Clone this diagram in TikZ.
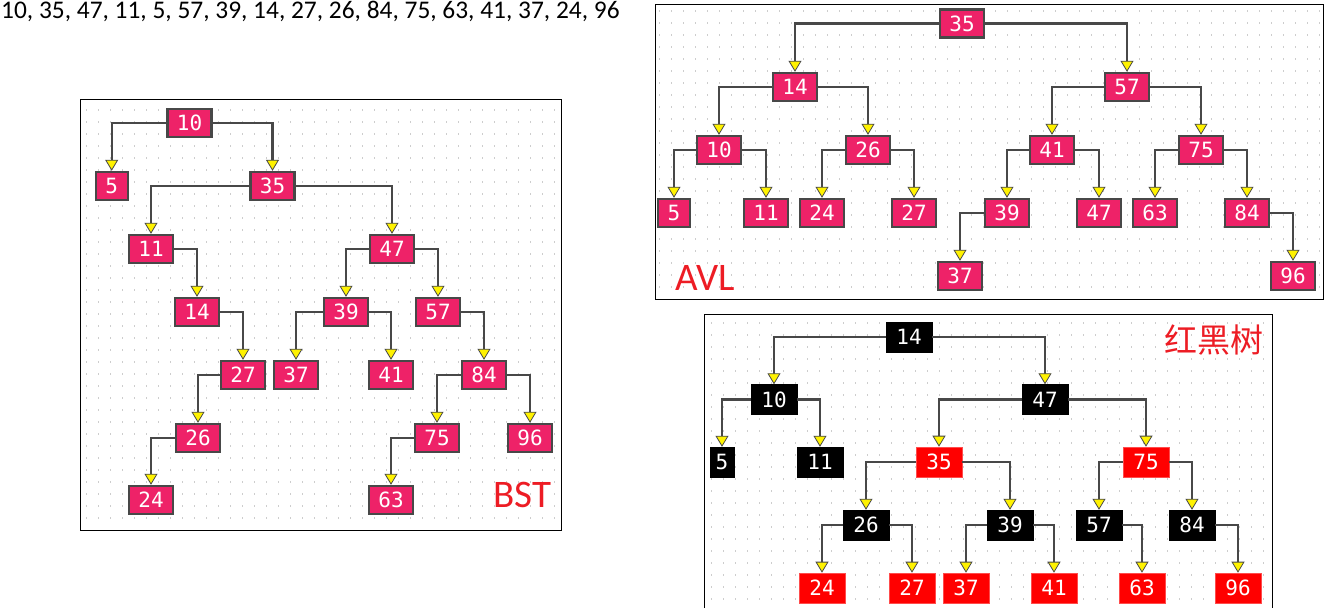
\documentclass[tikz,border=0pt]{standalone}
\usepackage{fontspec}
\setmainfont{Carlito}
\newfontfamily\monof{DejaVu Sans Mono}
\newfontfamily\cjkf{Noto Sans CJK SC}
\usetikzlibrary{arrows.meta}
\definecolor{pinkn}{RGB}{238,34,104}
\definecolor{edgec}{RGB}{72,72,72}
\definecolor{lbl}{RGB}{237,28,36}
\definecolor{dotc}{RGB}{205,205,205}
\begin{document}
\begin{tikzpicture}[x=1pt,y=-1pt,
  nd/.style={rectangle, minimum width=44pt, minimum height=28pt, inner sep=0pt, font=\monof\fontsize{21}{21}\selectfont, text=white},
  pk/.style={nd, fill=pinkn, draw=edgec, line width=2.4pt},
  bk/.style={nd, fill=black, draw=black, minimum width=46pt, minimum height=30pt},
  rd/.style={nd, fill=red, draw=red!70!white, line width=0.6pt, minimum width=46pt, minimum height=30pt},
  one/.style={minimum width=32pt},
  edge/.style={draw=edgec, line width=2.4pt, -{Triangle[width=13pt,length=11pt,fill=yellow,line width=0.8pt]}},
  frame/.style={draw=black, line width=1pt},
  dots/.style={draw=dotc, line width=1.4pt, dash pattern=on 1.4pt off 10.6pt},
  lab/.style={anchor=base west, inner sep=0pt, text=lbl, font=\fontsize{39}{39}\selectfont},
]
\useasboundingbox (0,0) rectangle (1338,608);
\fill[white] (0,0) rectangle (1338,608);
% dot grids
\foreach \yy in {110,122,...,526} \draw[dots] (86,\yy) -- (558,\yy);
\foreach \yy in {11,23,...,296} \draw[dots] (659,\yy) -- (1320,\yy);
\foreach \yy in {323,335,...,608} \draw[dots] (711,\yy) -- (1270,\yy);
% frames
\draw[frame] (80,99) rectangle (561,530);
\draw[frame] (655,4) rectangle (1323,299);
\draw[frame] (704.5,608) -- (704.5,314.5) -- (1272,314.5) -- (1272,608);
% sequence text
\node[anchor=base west, inner sep=0pt, font=\fontsize{25.4}{25.4}\selectfont] (seq) at (1,18.5) {10, 35, 47, 11, 5, 57, 39, 14, 27, 26, 84, 75, 63, 41, 37, 24, 96};
% labels
\node[lab] (bstl) at (493,507) {BST};
\node[lab] (avll) at (675,290) {AVL};
\node[inner sep=0pt, text=lbl, font=\cjkf\fontsize{33}{33}\selectfont] (rbl) at (1214,340) {红黑树};
% BST
\node[pk] (b10) at (189.5,123) {10};
\node[pk,one] (b5) at (111.7,186) {5};
\node[pk] (b35) at (272.5,186) {35};
\node[pk] (b11) at (151,249) {11};
\node[pk] (b47) at (392,249) {47};
\node[pk] (b14) at (197,312) {14};
\node[pk] (b39) at (346,312) {39};
\node[pk] (b57) at (438,312) {57};
\node[pk] (b27) at (243,375) {27};
\node[pk] (b37) at (296,375) {37};
\node[pk] (b41) at (391,375) {41};
\node[pk] (b84) at (484,375) {84};
\node[pk] (b26) at (198,438) {26};
\node[pk] (b75) at (437,438) {75};
\node[pk] (b96) at (530,438) {96};
\node[pk] (b24) at (151,500) {24};
\node[pk] (b63) at (391,500) {63};
\foreach \p/\c in {b10/b5,b35/b11,b47/b39,b39/b37,b27/b26,b84/b75,b26/b24,b75/b63}
  \draw[edge] (\p.west) -| (\c.north);
\foreach \p/\c in {b10/b35,b35/b47,b11/b14,b14/b27,b47/b57,b39/b41,b57/b84,b84/b96}
  \draw[edge] (\p.east) -| (\c.north);
% AVL
\node[pk] (a35) at (962,23.5) {35};
\node[pk] (a14) at (795,87) {14};
\node[pk] (a57) at (1127,87) {57};
\node[pk] (a10) at (719,150) {10};
\node[pk] (a26) at (868,150) {26};
\node[pk] (a41) at (1052,150) {41};
\node[pk] (a75) at (1201,150) {75};
\node[pk,one] (a5) at (674,213) {5};
\node[pk] (a11) at (766,213) {11};
\node[pk] (a24) at (822,213) {24};
\node[pk] (a27) at (914,213) {27};
\node[pk] (a39) at (1007,213) {39};
\node[pk] (a47) at (1099,213) {47};
\node[pk] (a63) at (1155,213) {63};
\node[pk] (a84) at (1247,213) {84};
\node[pk] (a37) at (960,276) {37};
\node[pk] (a96) at (1293,276) {96};
\foreach \p/\c in {a35/a14,a14/a10,a57/a41,a10/a5,a26/a24,a41/a39,a75/a63,a39/a37}
  \draw[edge] (\p.west) -| (\c.north);
\foreach \p/\c in {a35/a57,a14/a26,a57/a75,a10/a11,a26/a27,a41/a47,a75/a84,a84/a96}
  \draw[edge] (\p.east) -| (\c.north);
% Red-black
\node[bk] (r14) at (909,337) {14};
\node[bk] (r10) at (774,399.5) {10};
\node[bk] (r47) at (1045,399.5) {47};
\node[bk,minimum width=24pt] (r5) at (722,462) {5};
\node[bk] (r11) at (820,462) {11};
\node[rd] (r35) at (939,462) {35};
\node[rd] (r75) at (1146,462) {75};
\node[bk] (r26) at (866,525) {26};
\node[bk] (r39) at (1010,525) {39};
\node[bk] (r57) at (1099,525) {57};
\node[bk] (r84) at (1192,525) {84};
\node[rd] (r24) at (822,588) {24};
\node[rd] (r27) at (912,588) {27};
\node[rd] (r37) at (966,588) {37};
\node[rd] (r41) at (1054,588) {41};
\node[rd] (r63) at (1142,588) {63};
\node[rd] (r96) at (1238,588) {96};
\foreach \p/\c in {r14/r10,r10/r5,r47/r35,r35/r26,r75/r57,r26/r24,r39/r37}
  \draw[edge] (\p.west) -| (\c.north);
\foreach \p/\c in {r14/r47,r10/r11,r47/r75,r35/r39,r75/r84,r26/r27,r39/r41,r57/r63,r84/r96}
  \draw[edge] (\p.east) -| (\c.north);
\end{tikzpicture}
\end{document}
